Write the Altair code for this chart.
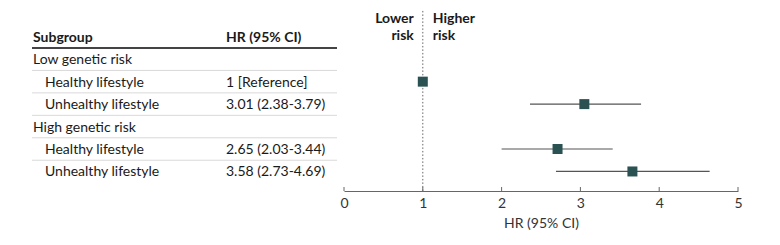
import altair as alt
import pandas as pd

# ---- data ----
rows = ["Low genetic risk", "Healthy lifestyle", "Unhealthy lifestyle",
        "High genetic risk", "Healthy lifestyle", "Unhealthy lifestyle"]
is_group = [True, False, False, True, False, False]
hr_text = ["", "1 [Reference]", "3.01 (2.38-3.79)", "", "2.65 (2.03-3.44)", "3.58 (2.73-4.69)"]
hr_est = [None, 1.0, 3.05, None, 2.71, 3.66]
ci_lo = [None, None, 2.36, None, 2.0, 2.69]
ci_hi = [None, None, 3.77, None, 3.41, 4.64]
x_ticks = [0, 1, 2, 3, 4, 5]

FONT = "Lato"
TXT = "#1a1a1a"
FS = 14
H = 183
YDOM = [-1.28, 6.87]

df = pd.DataFrame({
    "row": list(range(1, len(rows) + 1)),
    "label": rows,
    "group": is_group,
    "hr_text": hr_text,
    "est": hr_est,
    "lo": ci_lo,
    "hi": ci_hi,
})
seps = pd.DataFrame({"row": [1.5, 2.5, 3.5, 4.5, 5.5]})
header = pd.DataFrame({"row": [0], "a": ["Subgroup"], "b": ["HR (95% CI)"]})

yscale = alt.Scale(domain=YDOM, reverse=True, nice=False, zero=False)
def Y(f="row"):
    return alt.Y(f"{f}:Q", scale=yscale, axis=None)

# ---- left table ----
txt = dict(baseline="middle", font=FONT, fontSize=FS, color=TXT, dy=1)
grp = alt.Chart(df).transform_filter("datum.group").mark_text(
    align="left", **txt).encode(x=alt.value(1), y=Y(), text="label:N")
sub = alt.Chart(df).transform_filter("!datum.group").mark_text(
    align="left", **txt).encode(x=alt.value(13), y=Y(), text="label:N")
hrt = alt.Chart(df).mark_text(align="left", **txt).encode(
    x=alt.value(194), y=Y(), text="hr_text:N")
hdr_a = alt.Chart(header).mark_text(align="left", fontWeight="bold", **txt).encode(
    x=alt.value(1), y=Y(), text="a:N")
hdr_b = alt.Chart(header).mark_text(align="left", fontWeight="bold", **txt).encode(
    x=alt.value(194), y=Y(), text="b:N")
hdr_line = alt.Chart(pd.DataFrame({"row": [0.5]})).mark_rule(
    color="#444444", strokeWidth=2
).encode(x=alt.value(0), x2=alt.value(305), y=Y())
sep_lines = alt.Chart(seps).mark_rule(color="#d9d9d9", strokeWidth=1).encode(
    x=alt.value(0), x2=alt.value(305), y=Y())

left = alt.layer(sep_lines, hdr_line, grp, sub, hrt, hdr_a, hdr_b).properties(
    width=305, height=H)

# ---- right forest plot ----
xscale = alt.Scale(domain=[0, 5], nice=False, zero=False)
def X(f):
    return alt.X(f"{f}:Q", scale=xscale)

ref_line = alt.Chart(pd.DataFrame({"x": [1], "row": [-1.15]})).mark_rule(
    color="#666666", strokeDash=[1.5, 2], strokeWidth=1
).encode(x=alt.X("x:Q", scale=xscale,
                 axis=alt.Axis(values=x_ticks, format="d", title="HR (95% CI)",
                               grid=False, tickSize=0, labelPadding=5,
                               labelFontSize=FS, labelFont=FONT,
                               labelColor="#333333", titleFont=FONT,
                               titleFontSize=FS, titleFontWeight="normal",
                               titleColor="#333333", titlePadding=6,
                               domainColor="#666666", labelFlush=False)),
         y=Y(), y2=alt.value(H))

tick_df = pd.DataFrame({"x": x_ticks})
ticks = alt.Chart(tick_df).mark_rule(color="#666666").encode(
    x=X("x"), y=alt.value(H - 4), y2=alt.value(H))

ci = alt.Chart(df).transform_filter("isValid(datum.lo)").mark_rule(
    color="#555555", strokeWidth=1.2
).encode(x=X("lo"), x2="hi:Q", y=Y())
pts = alt.Chart(df).transform_filter("isValid(datum.est)").mark_square(
    size=100, color="#2b5253", opacity=1
).encode(x=X("est"), y=Y())

dir_df = pd.DataFrame({
    "x": [1, 1, 1, 1],
    "row": [-0.83, -0.08, -0.83, -0.08],
    "t": ["Lower", "risk", "Higher", "risk"],
    "side": ["L", "L", "R", "R"],
})
lower = alt.Chart(dir_df).transform_filter("datum.side=='L'").mark_text(
    align="right", dx=-9, fontWeight="bold", **txt
).encode(x=X("x"), y=Y(), text="t:N")
higher = alt.Chart(dir_df).transform_filter("datum.side=='R'").mark_text(
    align="left", dx=10, fontWeight="bold", **txt
).encode(x=X("x"), y=Y(), text="t:N")

right = alt.layer(ref_line, ticks, ci, pts, lower, higher).properties(
    width=394, height=H)

chart = alt.hconcat(left, right, spacing=7, bounds="flush").properties(
    padding={"left": 23, "top": 0, "right": 0, "bottom": 0},
    background="white"
).configure_view(strokeWidth=0, stroke="transparent")

chart.save("out.html", embed_options={"renderer": "svg", "actions": False})
